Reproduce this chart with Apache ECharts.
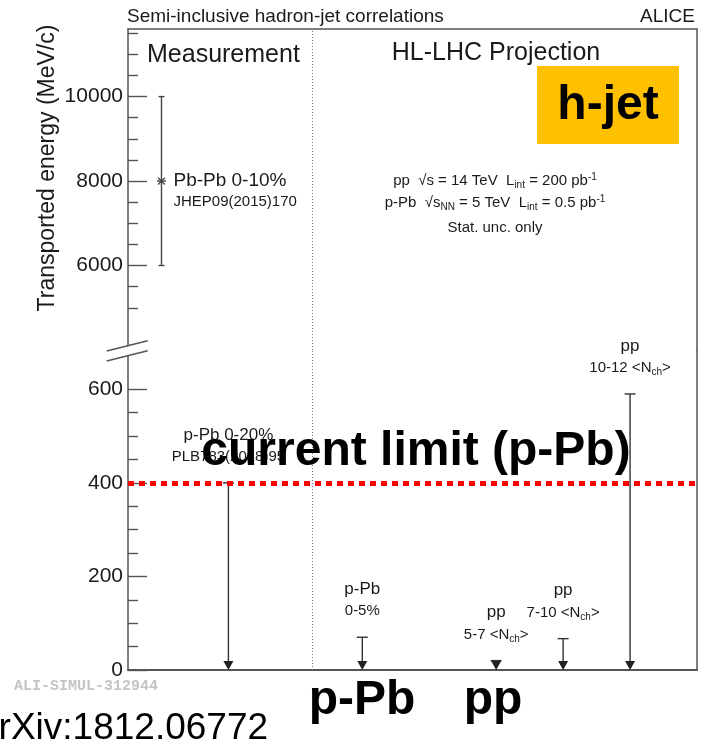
<!DOCTYPE html>
<html><head><meta charset="utf-8">
<script src="https://cdn.jsdelivr.net/npm/echarts@6/dist/echarts.min.js"></script>
<style>html,body{margin:0;padding:0;background:#fff}#c{width:705px;height:746px}</style>
</head><body><div id="c"></div>
<script>
const FONT = '"Liberation Sans", Arial, Helvetica, sans-serif';

// ---- data ----
const measX = [0.5];
const measValue = [8000];
const measLow = [6000];
const measHigh = [10000];
const measLabel = ['Pb-Pb 0-10%'];
const measRef = ['JHEP09(2015)170'];

const limitX = [1.5, 3.5, 5.5, 6.5, 7.5];
const limitValue = [400, 70, 20, 67, 590];
const limitLine1 = ['p-Pb 0-20%', 'p-Pb', 'pp', 'pp', 'pp'];
const limitLine2 = ['PLB783(2018)95', '0-5%', '5-7 <N{s|ch}>', '7-10 <N{s|ch}>', '10-12 <N{s|ch}>'];

const currentLimit = 400;
const separatorX = 2.75;
const xRange = [0, 8.5];
const upperRange = [4000, 11600];
const lowerRange = [0, 684];
const upperMajor = [6000, 8000, 10000];
const upperMinor = [5000, 5500, 6500, 7000, 7500, 8500, 9000, 9500, 10500, 11000, 11500];
const lowerMajor = [0, 200, 400, 600];
const lowerMinor = [50, 100, 150, 250, 300, 350, 450, 500, 550];

// ---- style ----
const AX = '#555';
const TXT = '#1a1a1a';
const gridLeft = 128, gridRight = 8, gridTop = 29, breakY = 350, gridBottomY = 670;

function yMajor(g, range, major) {
  return { type: 'value', gridIndex: g, position: 'left', min: range[0], max: range[1],
    axisLine: { show: true, onZero: false, lineStyle: { color: AX, width: 1.5 } },
    axisTick: { show: true, inside: true, length: 19, customValues: major, lineStyle: { color: AX, width: 1.4 } },
    axisLabel: { show: true, customValues: major, margin: 5, fontSize: 21, color: TXT, fontFamily: FONT,
      formatter: v => String(v) },
    splitLine: { show: false } };
}
function yMinor(g, range, minor) {
  return { type: 'value', gridIndex: g, position: 'left', min: range[0], max: range[1],
    axisLine: { show: false, onZero: false },
    axisTick: { show: true, inside: true, length: 10, customValues: minor, lineStyle: { color: AX, width: 1.4 } },
    axisLabel: { show: false }, splitLine: { show: false } };
}
function yRight(g, range) {
  return { type: 'value', gridIndex: g, position: 'right', min: range[0], max: range[1],
    axisLine: { show: true, onZero: false, lineStyle: { color: AX, width: 1.5 } },
    axisTick: { show: false }, axisLabel: { show: false }, splitLine: { show: false } };
}

function renderMeas(params, api) {
  const i = api.value(4);
  const x = api.value(0);
  const c = api.coord([x, api.value(1)]);
  const lo = api.coord([x, api.value(2)]);
  const hi = api.coord([x, api.value(3)]);
  const st = { stroke: '#444', lineWidth: 1.4 };
  const r = 4.5;
  return { type: 'group', children: [
    { type: 'line', shape: { x1: c[0], y1: hi[1], x2: c[0], y2: lo[1] }, style: st },
    { type: 'line', shape: { x1: c[0] - 3, y1: hi[1], x2: c[0] + 3, y2: hi[1] }, style: st },
    { type: 'line', shape: { x1: c[0] - 3, y1: lo[1], x2: c[0] + 3, y2: lo[1] }, style: st },
    { type: 'line', shape: { x1: c[0] - r, y1: c[1], x2: c[0] + r, y2: c[1] }, style: st },
    { type: 'line', shape: { x1: c[0] - r * 0.75, y1: c[1] - r * 0.75, x2: c[0] + r * 0.75, y2: c[1] + r * 0.75 }, style: st },
    { type: 'line', shape: { x1: c[0] - r * 0.75, y1: c[1] + r * 0.75, x2: c[0] + r * 0.75, y2: c[1] - r * 0.75 }, style: st },
    { type: 'text', x: c[0] + 12, y: c[1], style: { text: measLabel[i], fill: TXT, font: '19px ' + FONT, align: 'left', verticalAlign: 'middle' } },
    { type: 'text', x: c[0] + 12, y: c[1] + 21, style: { text: measRef[i], fill: TXT, font: '15px ' + FONT, align: 'left', verticalAlign: 'middle' } }
  ] };
}

function renderLimit(params, api) {
  const i = api.value(2);
  const x0 = api.value(0);
  const top = api.coord([x0, api.value(1)]);
  const bot = api.coord([x0, 0]);
  const x = top[0];
  const head = 9, hw = 5, cap = 5.5;
  const st = { stroke: '#333', lineWidth: 1.4 };
  return { type: 'group', children: [
    { type: 'line', shape: { x1: x, y1: top[1], x2: x, y2: bot[1] - head + 1 }, style: st },
    { type: 'line', shape: { x1: x - cap, y1: top[1], x2: x + cap, y2: top[1] }, style: st },
    { type: 'polygon', shape: { points: [[x - hw, bot[1] - head], [x + hw, bot[1] - head], [x, bot[1]]] }, style: { fill: '#222' } },
    { type: 'text', x: x, y: top[1] - 48, style: { text: limitLine1[i], fill: TXT, font: '17px ' + FONT, align: 'center', verticalAlign: 'middle' } },
    { type: 'text', x: x, y: top[1] - 26, style: { text: limitLine2[i], fill: TXT, font: '15px ' + FONT, align: 'center', verticalAlign: 'middle',
        rich: { s: { fontSize: 10, fontFamily: FONT, fill: TXT, padding: [9, 0, 0, 0] } } } }
  ] };
}

const chart = echarts.init(document.getElementById('c'), null, { renderer: 'canvas' });

const infoRich = {
  sub: { fontSize: 10, fontFamily: FONT, fill: TXT, padding: [8, 0, 0, 0] },
  sup: { fontSize: 10, fontFamily: FONT, fill: TXT, padding: [0, 0, 8, 0] }
};

chart.setOption({
  animation: false,
  backgroundColor: '#fff',
  grid: [
    { left: gridLeft, right: gridRight, top: gridTop, height: breakY - gridTop },
    { left: gridLeft, right: gridRight, top: breakY, height: gridBottomY - breakY }
  ],
  xAxis: [
    { type: 'value', gridIndex: 0, position: 'top', min: xRange[0], max: xRange[1],
      axisLine: { show: true, onZero: false, lineStyle: { color: AX, width: 1.5 } },
      axisTick: { show: false }, axisLabel: { show: false }, splitLine: { show: false } },
    { type: 'value', gridIndex: 1, position: 'bottom', min: xRange[0], max: xRange[1],
      axisLine: { show: true, onZero: false, lineStyle: { color: AX, width: 2 } },
      axisTick: { show: false }, axisLabel: { show: false }, splitLine: { show: false } }
  ],
  yAxis: [
    yMajor(0, upperRange, upperMajor), yMinor(0, upperRange, upperMinor), yRight(0, upperRange),
    yMajor(1, lowerRange, lowerMajor), yMinor(1, lowerRange, lowerMinor), yRight(1, lowerRange)
  ],
  series: [
    { type: 'custom', xAxisIndex: 0, yAxisIndex: 0, z: 5, silent: true,
      data: measX.map((x, i) => [x, measValue[i], measLow[i], measHigh[i], i]),
      renderItem: renderMeas,
      markLine: { silent: true, symbol: ['none', 'none'], label: { show: false },
        lineStyle: { color: '#777', width: 1, type: [1, 2] }, data: [{ xAxis: separatorX }] } },
    { type: 'custom', xAxisIndex: 1, yAxisIndex: 3, z: 5, silent: true,
      data: limitX.map((x, i) => [x, limitValue[i], i]),
      renderItem: renderLimit,
      markLine: { silent: true, symbol: ['none', 'none'], label: { show: false },
        lineStyle: { color: '#777', width: 1, type: [1, 2] }, data: [{ xAxis: separatorX }] } },
    { type: 'line', xAxisIndex: 1, yAxisIndex: 3, data: [], z: 8, silent: true,
      markLine: { silent: true, symbol: ['none', 'none'], label: { show: false }, z: 8,
        lineStyle: { color: '#ff0000', width: 5, type: [6, 5], cap: 'butt' }, data: [{ yAxis: currentLimit }] } }
  ],
  graphic: [
    { type: 'text', x: 127, y: 17, z: 50, style: { text: 'Semi-inclusive hadron-jet correlations', fill: TXT, font: '19px ' + FONT, align: 'left', verticalAlign: 'middle' } },
    { type: 'text', x: 695, y: 17, z: 50, style: { text: 'ALICE', fill: TXT, font: '19px ' + FONT, align: 'right', verticalAlign: 'middle' } },
    { type: 'text', x: 147, y: 55, z: 50, style: { text: 'Measurement', fill: TXT, font: '25px ' + FONT, align: 'left', verticalAlign: 'middle' } },
    { type: 'text', x: 496, y: 53, z: 50, style: { text: 'HL-LHC Projection', fill: TXT, font: '25px ' + FONT, align: 'center', verticalAlign: 'middle' } },
    { type: 'rect', z: 50, shape: { x: 537, y: 66, width: 142, height: 78 }, style: { fill: '#FFC000' } },
    { type: 'text', x: 608, y: 106, z: 51, style: { text: 'h-jet', fill: '#000', font: 'bold 48px ' + FONT, align: 'center', verticalAlign: 'middle' } },
    { type: 'text', x: 495, y: 181, z: 50, style: { text: 'pp  √s = 14 TeV  L{sub|int} = 200 pb{sup|-1}', fill: TXT, font: '15px ' + FONT, align: 'center', verticalAlign: 'middle', rich: infoRich } },
    { type: 'text', x: 495, y: 203, z: 50, style: { text: 'p-Pb  √s{sub|NN} = 5 TeV  L{sub|int} = 0.5 pb{sup|-1}', fill: TXT, font: '15px ' + FONT, align: 'center', verticalAlign: 'middle', rich: infoRich } },
    { type: 'text', x: 495, y: 228, z: 50, style: { text: 'Stat. unc. only', fill: TXT, font: '15px ' + FONT, align: 'center', verticalAlign: 'middle' } },
    { type: 'text', x: 416, y: 452, z: 60, style: { text: 'current limit (p-Pb)', fill: '#000', font: 'bold 48px ' + FONT, align: 'center', verticalAlign: 'middle' } },
    { type: 'text', x: 362, y: 701, z: 50, style: { text: 'p-Pb', fill: '#000', font: 'bold 48px ' + FONT, align: 'center', verticalAlign: 'middle' } },
    { type: 'text', x: 493, y: 701, z: 50, style: { text: 'pp', fill: '#000', font: 'bold 48px ' + FONT, align: 'center', verticalAlign: 'middle' } },
    { type: 'text', x: -22, y: 729, z: 50, style: { text: 'arXiv:1812.06772', fill: '#000', font: '37px ' + FONT, align: 'left', verticalAlign: 'middle' } },
    { type: 'text', x: 14, y: 686, z: 50, style: { text: 'ALI-SIMUL-312944', fill: '#c4c4c4', font: 'bold 15px "Liberation Mono", monospace', align: 'left', verticalAlign: 'middle' } },
    { type: 'text', x: 48, y: 168, z: 50, rotation: Math.PI / 2, style: { text: 'Transported energy (MeV/c)', fill: TXT, font: '23px ' + FONT, align: 'center', verticalAlign: 'middle' } },
    { type: 'polygon', z: 70, shape: { points: [[106.7, 351], [147.7, 340.7], [147.7, 350.7], [106.7, 361]] }, style: { fill: '#fff' } },
    { type: 'line', z: 71, shape: { x1: 106.7, y1: 351, x2: 147.7, y2: 340.7 }, style: { stroke: AX, lineWidth: 1.4 } },
    { type: 'line', z: 71, shape: { x1: 106.7, y1: 361, x2: 147.7, y2: 350.7 }, style: { stroke: AX, lineWidth: 1.4 } }
  ]
});
</script>
</body></html>
